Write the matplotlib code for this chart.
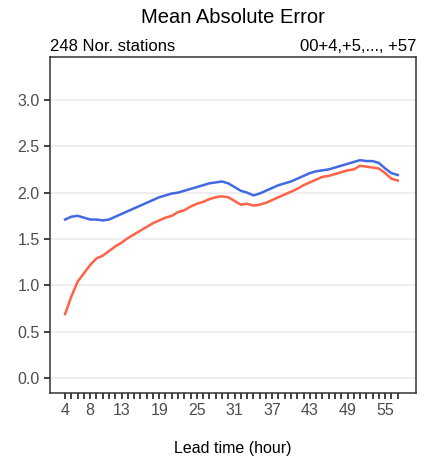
import matplotlib
matplotlib.use('Agg')
import matplotlib.pyplot as plt
from matplotlib.transforms import blended_transform_factory

plt.rcParams['font.family'] = ['Liberation Sans', 'DejaVu Sans']

lead_time = list(range(4, 58))
mae_blue = [1.71, 1.74, 1.75, 1.73, 1.71, 1.71, 1.70, 1.71, 1.74, 1.77,
            1.80, 1.83, 1.86, 1.89, 1.92, 1.95, 1.97, 1.99, 2.00, 2.02,
            2.04, 2.06, 2.08, 2.10, 2.11, 2.12, 2.10, 2.06, 2.02, 2.00,
            1.97, 1.99, 2.02, 2.05, 2.08, 2.10, 2.12, 2.15, 2.18, 2.21,
            2.23, 2.24, 2.25, 2.27, 2.29, 2.31, 2.33, 2.35, 2.34, 2.34,
            2.32, 2.26, 2.21, 2.19]
mae_red = [0.69, 0.88, 1.04, 1.13, 1.22, 1.29, 1.32, 1.37, 1.42, 1.46,
           1.51, 1.55, 1.59, 1.63, 1.67, 1.70, 1.73, 1.75, 1.79, 1.81,
           1.85, 1.88, 1.90, 1.93, 1.95, 1.96, 1.95, 1.91, 1.87, 1.88,
           1.86, 1.87, 1.89, 1.92, 1.95, 1.98, 2.01, 2.04, 2.08, 2.11,
           2.14, 2.17, 2.18, 2.20, 2.22, 2.24, 2.25, 2.29, 2.28, 2.27,
           2.26, 2.21, 2.15, 2.13]
xtick_labels = [4, 8, 13, 19, 25, 31, 37, 43, 49, 55]
yticks = [0.0, 0.5, 1.0, 1.5, 2.0, 2.5, 3.0]

fig = plt.figure(figsize=(4.31, 4.61), dpi=100)
ax = fig.add_axes([0.116, 0.1475, 0.849, 0.7285])

ax.plot(lead_time, mae_blue, color='#4169E1', lw=1.8)
ax.plot(lead_time, mae_red, color='#FF6347', lw=1.8)

ax.set_xlim(1.6, 59.9)
ax.set_ylim(-0.16, 3.46)
ax.set_yticks(yticks)
ax.set_yticklabels(['%.1f' % v for v in yticks])
ax.set_xticks(xtick_labels)
ax.set_xticks(lead_time, minor=True)
ax.grid(axis='y', color='#EBEBEB', lw=1.2)
ax.set_axisbelow(True)

ax.tick_params(axis='both', which='major', labelsize=11.5, colors='#333333',
               length=4, width=1.3, labelcolor='#4D4D4D')
ax.tick_params(axis='x', which='minor', length=4, width=1.3, colors='#333333')
for s in ax.spines.values():
    s.set_color('#333333')
    s.set_linewidth(1.1)

ax.set_xlabel('Lead time (hour)', fontsize=11.5, labelpad=16)
# title centred over the axes, placed in figure height
title_tr = blended_transform_factory(ax.transAxes, fig.transFigure)
ax.text(0.5, 0.962, 'Mean Absolute Error', transform=title_tr,
        ha='center', va='center', fontsize=14.5)
ax.text(0.0, 1.008, '248 Nor. stations', transform=ax.transAxes,
        ha='left', va='bottom', fontsize=12)
ax.text(1.0, 1.008, '00+4,+5,..., +57', transform=ax.transAxes,
        ha='right', va='bottom', fontsize=12)

fig.savefig('out.png', dpi=100)
